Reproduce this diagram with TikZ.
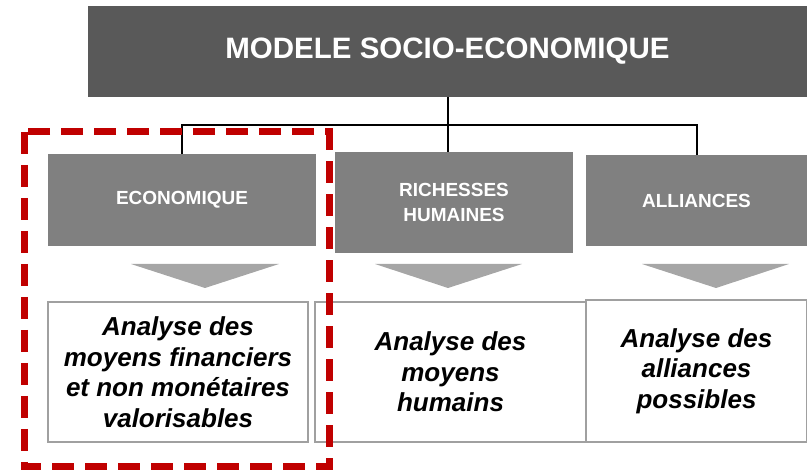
\documentclass[tikz,border=0pt]{standalone}
\usepackage{fontspec}
\setmainfont{Liberation Sans}
\usepackage{tikz}
\definecolor{titlegray}{HTML}{595959}
\definecolor{headgray}{HTML}{808080}
\definecolor{arrowgray}{HTML}{A6A6A6}
\definecolor{framegray}{HTML}{A0A0A0}
\definecolor{focusred}{HTML}{C00000}

\begin{document}
\begin{tikzpicture}[x=1pt, y=-1pt, thick]
\useasboundingbox (0,0) rectangle (807,470);

\tikzstyle{every node}=[inner sep=0pt, align=center]
\tikzstyle{title}=[fill=titlegray, text=white, minimum width=719pt, minimum height=91pt,
  font=\bfseries\fontsize{29.5}{32}\selectfont]
\tikzstyle{head}=[fill=headgray, text=white, font=\bfseries\fontsize{19}{25}\selectfont]
\tikzstyle{result}=[draw=framegray, line width=1.5pt, fill=white, text=black,
  font=\bfseries\itshape\fontsize{26}{30.5}\selectfont]

\draw     (447.5, 51.5) node[title] (model) {MODELE SOCIO-ECONOMIQUE};
\draw     (182, 200)    node[head, minimum width=268pt, minimum height=92pt] (eco) {ECONOMIQUE}
          (454, 202.5)  node[head, minimum width=238pt, minimum height=101pt] (rich) {RICHESSES\\HUMAINES}
          (696.5, 200.5) node[head, minimum width=221pt, minimum height=91pt] (alli) {ALLIANCES};

% arrows down to the analyses
\fill[arrowgray] (131,264) -- (279,264) -- (205,288) -- cycle;
\fill[arrowgray] (375,264) -- (522,264) -- (448,288) -- cycle;
\fill[arrowgray] (642,264) -- (789,264) -- (716,288) -- cycle;

\draw     (178, 372)    node[result, minimum width=260pt, minimum height=140pt] (ecores)
            {Analyse des\\moyens financiers\\et non monétaires\\valorisables}
          (450.5, 372)  node[result, minimum width=271pt, minimum height=140pt] (richres)
            {Analyse des\\moyens\\humains}
          (696.5, 371)  node[result, minimum width=221pt, minimum height=142pt] (allires)
            {Analyse des\\alliances\\possibles};

\draw[line width=2pt] (model.south) -- (model.south |- rich.north);
\draw[line width=2pt] (eco.north) -- ++(0,-29) -| (alli.north);

% focus on the economic part
\draw[focusred, line width=7pt, dash pattern=on 22pt off 11pt] (24,132) rectangle (329,467);

\end{tikzpicture}
\end{document}
